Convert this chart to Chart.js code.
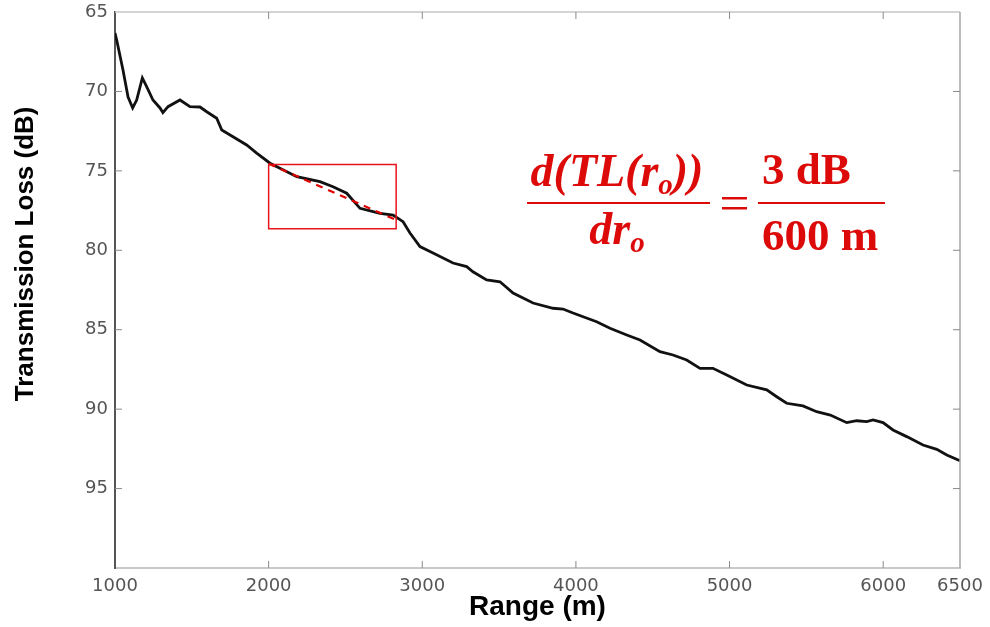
<!DOCTYPE html>
<html>
<head>
<meta charset="utf-8">
<script src="https://cdn.jsdelivr.net/npm/chart.js@4.4.0/dist/chart.umd.min.js"></script>
<style>
html,body{margin:0;padding:0;background:#fff;}
#wrap{width:990px;height:627px;position:relative;}
</style>
</head>
<body>
<div id="wrap"><canvas id="c" width="990" height="627"></canvas></div>
<script>
// ---- data ----
const rangeM = [1000,1011,1052,1085,1115,1141,1178,1206,1247,1293,1312,1345,1423,1488,1553,1597,1662,1695,1768,1857,1922,2009,2183,2334,2419,2508,2595,2725,2810,2875,2920,2985,3070,3200,3289,3330,3419,3506,3591,3721,3851,3916,3981,4135,4222,4331,4417,4547,4632,4721,4808,4892,4982,5112,5242,5307,5372,5478,5567,5656,5763,5828,5893,5934,5999,6064,6153,6259,6349,6414,6500];
const lossDb = [66.32,66.76,68.65,70.35,71.04,70.54,69.15,69.70,70.54,71.04,71.34,70.96,70.54,70.96,70.98,71.28,71.69,72.43,72.85,73.37,73.88,74.52,75.37,75.68,76.00,76.41,77.36,77.67,77.78,78.20,78.91,79.77,80.17,80.80,81.03,81.35,81.87,81.98,82.69,83.32,83.65,83.70,83.95,84.50,84.91,85.33,85.65,86.38,86.59,86.91,87.43,87.43,87.85,88.48,88.79,89.22,89.63,89.80,90.16,90.37,90.85,90.73,90.79,90.68,90.85,91.31,91.73,92.26,92.53,92.89,93.25];
const xTickValues = [1000,2000,3000,4000,5000,6000,6500];
const yTickValues = [65,70,75,80,85,90,95];
const boxRange = [2000,2830,2830,2000,2000];
const boxLoss = [74.6,74.6,78.65,78.65,74.6];
const slopeRange = [2000,2820];
const slopeLoss = [74.55,78.05];
const xTitle = 'Range (m)';
const yTitle = 'Transmission Loss (dB)';

const toPts = (xs, ys) => xs.map((v, i) => ({x: v, y: ys[i]}));

const framePlugin = {
  id: 'frame',
  afterDraw(chart) {
    const {ctx, chartArea: a, scales: {x, y}} = chart;
    ctx.save();
    const line = (x1, y1, x2, y2) => { ctx.beginPath(); ctx.moveTo(x1, y1); ctx.lineTo(x2, y2); ctx.stroke(); };
    ctx.lineWidth = 1.5;
    ctx.strokeStyle = '#c6c6c6';
    line(a.left, a.top, a.right, a.top);
    ctx.strokeStyle = '#a6a6a6';
    line(a.right, a.top, a.right, a.bottom);
    ctx.lineWidth = 1;
    ctx.strokeStyle = '#8a8a8a';
    x.ticks.forEach(t => {
      const px = x.getPixelForValue(t.value);
      if (px <= a.left + 1 || px >= a.right - 1) return;
      line(px, a.bottom, px, a.bottom - 7);
      line(px, a.top, px, a.top + 7);
    });
    y.ticks.forEach(t => {
      const py = y.getPixelForValue(t.value);
      if (py <= a.top + 1 || py >= a.bottom - 1) return;
      line(a.left, py, a.left + 7, py);
      line(a.right, py, a.right - 7, py);
    });
    // y axis title, placed like the reference (slightly above the axis centre)
    ctx.translate(26, a.top + (a.bottom - a.top) * 0.435);
    ctx.rotate(-Math.PI / 2);
    ctx.fillStyle = '#000';
    ctx.font = 'bold 26px "Liberation Sans", Arial, sans-serif';
    ctx.textAlign = 'center';
    ctx.textBaseline = 'middle';
    ctx.fillText(yTitle, 0, 0);
    ctx.restore();
  }
};

const formulaPlugin = {
  id: 'formula',
  afterDraw(chart) {
    const ctx = chart.ctx;
    const red = '#dd0a0a';
    ctx.save();
    ctx.fillStyle = red;
    ctx.strokeStyle = red;
    ctx.textBaseline = 'alphabetic';
    const italic = 'italic bold 46px "Liberation Serif", "DejaVu Serif", serif';
    const subFont = 'italic bold 29px "Liberation Serif", "DejaVu Serif", serif';
    const bold = 'bold 45px "Liberation Serif", "DejaVu Serif", serif';
    const run = (parts, cx, base) => {
      let w = 0;
      parts.forEach(p => { ctx.font = p[1]; w += ctx.measureText(p[0]).width; });
      let xx = cx - w / 2;
      ctx.textAlign = 'left';
      parts.forEach(p => { ctx.font = p[1]; ctx.fillText(p[0], xx, base + p[2]); xx += ctx.measureText(p[0]).width; });
    };
    run([['d(TL(r', italic, 0], ['o', subFont, 8], ['))', italic, 0]], 617, 186);
    ctx.fillRect(527, 202, 183, 2);
    run([['dr', italic, 0], ['o', subFont, 8]], 617, 244);
    ctx.fillRect(722, 197, 25, 2.5);
    ctx.fillRect(722, 207, 25, 2.5);
    ctx.font = bold;
    ctx.textAlign = 'left';
    ctx.fillText('3 dB', 762, 184);
    ctx.fillRect(758, 202, 127, 2);
    ctx.fillText('600 m', 762, 250);
    ctx.restore();
  }
};

new Chart(document.getElementById('c'), {
  type: 'line',
  data: {
    datasets: [
      {
        label: 'TL',
        data: toPts(rangeM, lossDb),
        borderColor: '#111',
        borderWidth: 2.8,
        pointRadius: 0,
        tension: 0,
        fill: false,
        order: 3
      },
      {
        label: 'box',
        data: toPts(boxRange, boxLoss),
        borderColor: '#e8141c',
        borderWidth: 1.5,
        pointRadius: 0,
        tension: 0,
        fill: false,
        order: 2
      },
      {
        label: 'slope',
        data: toPts(slopeRange, slopeLoss),
        borderColor: '#e00000',
        borderWidth: 2.2,
        borderDash: [7, 6],
        pointRadius: 0,
        tension: 0,
        fill: false,
        order: 1
      }
    ]
  },
  options: {
    responsive: false,
    devicePixelRatio: 1,
    animation: false,
    layout: {padding: {left: 0, right: 30, top: 12, bottom: 0}},
    plugins: {legend: {display: false}, tooltip: {enabled: false}},
    scales: {
      x: {
        type: 'linear',
        min: 1000,
        max: 6500,
        afterBuildTicks: s => { s.ticks = xTickValues.map(v => ({value: v})); },
        afterFit: s => { s.height = 59; s.paddingLeft = 0; s.paddingRight = 0; },
        ticks: {
          autoSkip: false,
          maxRotation: 0,
          color: '#555',
          padding: 8,
          callback: v => String(v),
          font: {family: '"DejaVu Sans", sans-serif', size: 18}
        },
        grid: {display: true, drawOnChartArea: false, drawTicks: false},
        border: {display: true, color: '#c8c8c8', width: 2},
        title: {
          display: true,
          text: xTitle,
          color: '#000',
          padding: {top: 0, bottom: 3},
          font: {family: '"Liberation Sans", Arial, sans-serif', size: 28, weight: 'bold'}
        }
      },
      y: {
        type: 'linear',
        reverse: true,
        min: 65,
        max: 100,
        afterBuildTicks: s => { s.ticks = yTickValues.map(v => ({value: v})); },
        afterFit: s => { s.width = 115; s.paddingTop = 0; s.paddingBottom = 0; },
        ticks: {
          color: '#555',
          padding: 7,
          callback: v => String(v),
          font: {family: '"DejaVu Sans", sans-serif', size: 18}
        },
        grid: {display: true, drawOnChartArea: false, drawTicks: false},
        border: {display: true, color: '#555', width: 2},
        title: {display: false, text: yTitle}
      }
    }
  },
  plugins: [framePlugin, formulaPlugin]
});
</script>
</body>
</html>
